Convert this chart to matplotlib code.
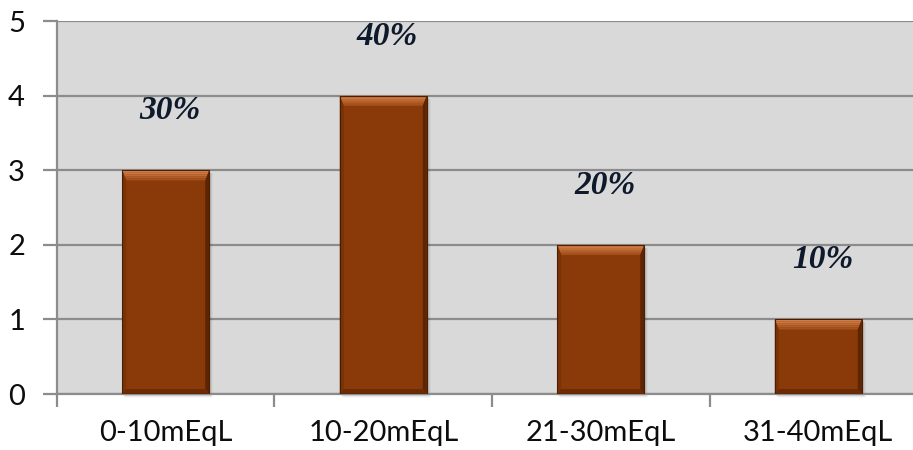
import numpy as np
import matplotlib.pyplot as plt
from matplotlib.patches import Polygon

categories = ['0-10mEqL', '10-20mEqL', '21-30mEqL', '31-40mEqL']
counts = [3, 4, 2, 1]
total = sum(counts)
percents = [c / total * 100 for c in counts]

bar_color = '#8A3A09'
grid_color = '#8C8C8C'

fig = plt.figure(figsize=(9.13, 4.5), dpi=100)
ax = fig.add_axes([0.0624, 0.1244, 0.953, 0.8286])
ax.set_facecolor('#D9D9D9')
ax.set_xlim(-0.5, 3.5)
ax.set_ylim(0, 5)

x = np.arange(len(categories))
ax.yaxis.grid(True, color=grid_color, lw=1.6, zorder=0)
ax.set_axisbelow(True)

bars = ax.bar(x, counts, width=0.4, color=bar_color, zorder=3, lw=0)

# pixel -> data scale for the bevel and shadow
fig.canvas.draw()
p0 = ax.transData.transform((0, 0))
p1 = ax.transData.transform((1, 1))
sx = 1.0 / (p1[0] - p0[0])
sy = 1.0 / (p1[1] - p0[1])

for b in bars:
    x0, w, h = b.get_x(), b.get_width(), b.get_height()
    x1 = x0 + w
    t = 10 * sy  # top bevel height
    s = 4 * sx   # side bevel width
    d = 5 * sy   # bottom bevel height
    # soft drop shadow
    for k, a in enumerate([0.12, 0.08, 0.05, 0.03]):
        ax.add_patch(Polygon([(x0 + k * sx, -(k + 1) * sy), (x1 + (k + 1) * sx, -(k + 1) * sy),
                              (x1 + (k + 1) * sx, h - 3 * sy), (x0 + k * sx, h - 3 * sy)],
                             closed=True, fc='black', alpha=a, lw=0, zorder=2, clip_on=False))
    # top bevel, lighter towards the edge
    steps = 5
    for i in range(steps):
        f0, f1 = i / steps, (i + 1) / steps
        c = np.array([0xD8, 0x84, 0x4E]) * (1 - f0) + np.array([0x9A, 0x45, 0x12]) * f0
        ax.add_patch(Polygon([(x0 + s * f0, h - t * f0), (x1 - s * f0, h - t * f0),
                              (x1 - s * f1, h - t * f1), (x0 + s * f1, h - t * f1)],
                             closed=True, fc=c / 255, lw=0, zorder=4))
    # left bevel
    ax.add_patch(Polygon([(x0, h), (x0 + s, h - t), (x0 + s, d), (x0, 0)],
                         closed=True, fc='#7A3207', lw=0, zorder=4))
    # right bevel
    ax.add_patch(Polygon([(x1, h), (x1 - s, h - t), (x1 - s, d), (x1, 0)],
                         closed=True, fc='#5C2504', lw=0, zorder=4))
    # bottom bevel
    ax.add_patch(Polygon([(x0, 0), (x1, 0), (x1 - s, d), (x0 + s, d)],
                         closed=True, fc='#6A2B05', lw=0, zorder=4))
    ax.add_patch(plt.Rectangle((x0, 0), w, h, fill=False, ec='#4A1E03', lw=0.8, zorder=5))

for xi, c, p in zip(x, counts, percents):
    ax.text(xi + 0.02, c + 0.8, f'{p:.0f}%', ha='center', va='center',
            family='Liberation Serif', fontsize=24, fontweight='bold', fontstyle='italic',
            color='#0E1A2B', zorder=6)

ax.set_yticks(range(6))
ax.set_xticks(x)
ax.set_xticklabels(categories)
ax.set_xticks(np.arange(-0.5, 4, 1), minor=True)
ax.tick_params(axis='x', which='major', length=0, pad=19)
ax.tick_params(axis='x', which='minor', length=9, width=1.6, color=grid_color)
ax.tick_params(axis='y', length=10, width=1.6, color=grid_color, pad=13)
for lab in ax.get_xticklabels() + ax.get_yticklabels():
    lab.set_family('Lato')
    lab.set_fontsize(21)
    lab.set_color('#0D0D0D')

for side in ['top', 'right']:
    ax.spines[side].set_visible(False)
for side in ['left', 'bottom']:
    ax.spines[side].set_color(grid_color)
    ax.spines[side].set_linewidth(1.6)

fig.savefig('out.png', dpi=100)
